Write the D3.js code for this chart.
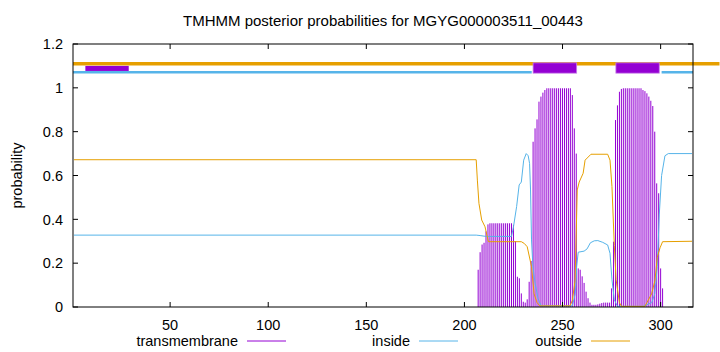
<!DOCTYPE html>
<html>
<head>
<meta charset="utf-8">
<script src="https://cdn.jsdelivr.net/npm/d3@7"></script>
<style>
  body { margin: 0; background: #fff; }
  text { font-family: "Liberation Sans", Arial, sans-serif; font-size: 14.5px; fill: #000; }
</style>
</head>
<body>
<script>
let width = 720;
let height = 352;

// data
let seqLength = 316;
let yTicks = [0, 0.2, 0.4, 0.6, 0.8, 1, 1.2];
let xTicks = [50, 100, 150, 200, 250, 300];

// transmembrane posterior, residues 207..301 (zero elsewhere)
let tmFirst = 207;
let tmValues = [
  0.17, 0.25, 0.285, 0.293, 0.345, 0.377,                       // 207-212
  0.382, 0.382, 0.382, 0.382, 0.382, 0.382, 0.382, 0.382, 0.382, 0.382, 0.382, 0.382, 0.375, // 213-225
  0.30, 0.138, 0.131, 0.062, 0.024, 0.02, 0.035, 0.115, 0.21,  // 226-234
  0.754, 0.815, 0.856, 0.937, 0.96, 0.978, 0.99,                // 235-241
  0.998, 0.998, 0.998, 0.998, 0.998, 0.998, 0.998, 0.998, 0.998, 0.998, 0.998, 0.998, 0.998, // 242-254
  0.967, 0.815, 0.70, 0.176, 0.17, 0.14, 0.11, 0.07, 0.04, 0.02, // 255-264
  0.01, 0.01, 0.01, 0.012, 0.015, 0.018, 0.02, 0.02, 0.02, 0.02, // 265-274
  0.085, 0.298, 0.853, 0.92, 0.982, 0.995,                      // 275-280
  0.998, 0.998, 0.998, 0.998, 0.998, 0.998, 0.998, 0.998, 0.998, 0.998, // 281-290
  0.99, 0.985, 0.975, 0.96, 0.941, 0.917, 0.80, 0.564, 0.519, 0.176, 0.085 // 291-301
];

// inside / outside posterior as [residue, probability]
let insideCurve = [
  [1, 0.328], [206, 0.328], [208, 0.326], [211, 0.322], [224, 0.322], [225, 0.366],
  [226.6, 0.458], [227.9, 0.557], [229, 0.57], [230.2, 0.67], [231.5, 0.70], [232.5, 0.69],
  [233.2, 0.655], [233.7, 0.534], [234.2, 0.306], [234.9, 0.184], [236, 0.11], [237.5, 0.04],
  [239, 0.005], [255, 0.005], [256.5, 0.06], [257.2, 0.184], [258, 0.25], [261, 0.255],
  [262.5, 0.265], [264.2, 0.293], [266.2, 0.302], [268, 0.303], [270.5, 0.295], [273, 0.283],
  [274.2, 0.245], [275.2, 0.124], [276.4, 0.033], [278, 0.003], [291, 0.003], [295.5, 0.02],
  [297, 0.06], [298.3, 0.184], [299.3, 0.42], [300.5, 0.6], [302.2, 0.69], [303.9, 0.70], [316, 0.70]
];
let outsideCurve = [
  [1, 0.672], [206, 0.672], [206.6, 0.579], [207.4, 0.473], [208.8, 0.397], [210.5, 0.366],
  [212.2, 0.298], [229, 0.298], [230.5, 0.29], [232, 0.275], [234.2, 0.184], [235.5, 0.06],
  [237, 0.02], [238.5, 0.005], [253.8, 0.005], [255, 0.03], [256.4, 0.12], [257.5, 0.534],
  [258.5, 0.57], [260.5, 0.61], [261.5, 0.67], [264.5, 0.697], [273, 0.697], [274.2, 0.67],
  [275.2, 0.55], [276.4, 0.28], [277.3, 0.125], [279, 0.02], [280, 0.003], [292, 0.003],
  [293, 0.02], [295.4, 0.06], [297.1, 0.12], [298.3, 0.227], [299.7, 0.27], [301, 0.298], [316, 0.3]
];

// topology strip above the plot: [from, to]
let outsideStrip = [[0.5, 330]];
let insideStrip = [[0.5, 234.3], [300.5, 316.5]];
let tmBoxes = [[235, 257.2], [277.2, 299.3]];
let smallBoxes = [[6.8, 28.9]];

let legendItems = ['transmembrane', 'inside', 'outside'];
let colors = { transmembrane: '#9400d3', inside: '#56b4e9', outside: '#e69f00' };

let margin = { top: 44, right: 27, bottom: 45, left: 73 };

let x = d3.scaleLinear().domain([0.5, seqLength + 0.5]).range([margin.left, width - margin.right]);
let y = d3.scaleLinear().domain([0, 1.2]).range([height - margin.bottom, margin.top]);

let svg = d3.select('body')
  .append('svg')
  .attr('width', width)
  .attr('height', height);

let tmSeries = d3.range(1, seqLength + 1).map(r => {
  let i = r - tmFirst;
  return [r, (i >= 0 && i < tmValues.length) ? tmValues[i] : 0];
});

// impulses
svg.append('g')
  .selectAll('line')
  .data(tmSeries.filter(d => d[1] > 0))
  .join('line')
  .attr('x1', d => x(d[0]))
  .attr('x2', d => x(d[0]))
  .attr('y1', y(0))
  .attr('y2', d => y(d[1]))
  .attr('stroke', colors.transmembrane)
  .attr('stroke-width', 1);

let line = d3.line().x(d => x(d[0])).y(d => y(d[1]));

svg.append('path')
  .attr('d', line(insideCurve))
  .attr('fill', 'none')
  .attr('stroke', colors.inside)
  .attr('stroke-width', 1);

svg.append('path')
  .attr('d', line(outsideCurve))
  .attr('fill', 'none')
  .attr('stroke', colors.outside)
  .attr('stroke-width', 1);

// topology strip
svg.append('g')
  .selectAll('line')
  .data(insideStrip)
  .join('line')
  .attr('x1', d => x(d[0]))
  .attr('x2', d => x(d[1]))
  .attr('y1', y(1.071))
  .attr('y2', y(1.071))
  .attr('stroke', colors.inside)
  .attr('stroke-width', 2.5);

svg.append('g')
  .selectAll('line')
  .data(outsideStrip)
  .join('line')
  .attr('x1', d => x(d[0]))
  .attr('x2', d => x(d[1]))
  .attr('y1', y(1.11))
  .attr('y2', y(1.11))
  .attr('stroke', colors.outside)
  .attr('stroke-width', 3.4);

svg.append('g')
  .selectAll('rect')
  .data(smallBoxes)
  .join('rect')
  .attr('x', d => x(d[0]))
  .attr('width', d => x(d[1]) - x(d[0]))
  .attr('y', y(1.1))
  .attr('height', y(1.077) - y(1.1))
  .attr('fill', colors.transmembrane);

svg.append('g')
  .selectAll('rect')
  .data(tmBoxes)
  .join('rect')
  .attr('x', d => x(d[0]))
  .attr('width', d => x(d[1]) - x(d[0]))
  .attr('y', y(1.114))
  .attr('height', y(1.067) - y(1.114))
  .attr('fill', colors.transmembrane)
  .attr('stroke', '#c77ee8')
  .attr('stroke-width', 0.8);

// frame and ticks
let x0 = margin.left, x1 = width - margin.right;
let y0 = height - margin.bottom, y1 = margin.top;

svg.append('rect')
  .attr('x', x0)
  .attr('y', y1)
  .attr('width', x1 - x0)
  .attr('height', y0 - y1)
  .attr('fill', 'none')
  .attr('stroke', '#000')
  .attr('stroke-width', 1);

let ticks = svg.append('g').attr('stroke', '#000').attr('stroke-width', 1);
yTicks.forEach(t => {
  ticks.append('line').attr('x1', x0).attr('x2', x0 + 5).attr('y1', y(t)).attr('y2', y(t));
  ticks.append('line').attr('x1', x1).attr('x2', x1 - 5).attr('y1', y(t)).attr('y2', y(t));
});
xTicks.forEach(t => {
  ticks.append('line').attr('x1', x(t)).attr('x2', x(t)).attr('y1', y0).attr('y2', y0 - 5);
  ticks.append('line').attr('x1', x(t)).attr('x2', x(t)).attr('y1', y1).attr('y2', y1 + 5);
});

svg.append('g')
  .selectAll('text')
  .data(yTicks)
  .join('text')
  .attr('x', x0 - 10)
  .attr('y', d => y(d))
  .attr('dy', '0.36em')
  .attr('text-anchor', 'end')
  .text(d => d3.format('~g')(d));

svg.append('g')
  .selectAll('text')
  .data(xTicks)
  .join('text')
  .attr('x', d => x(d))
  .attr('y', y0 + 23)
  .attr('text-anchor', 'middle')
  .text(d => d);

svg.append('text')
  .attr('x', (x0 + x1) / 2)
  .attr('y', 26)
  .attr('text-anchor', 'middle')
  .style('font-size', '15px')
  .text('TMHMM posterior probabilities for MGYG000003511_00443');

svg.append('text')
  .attr('transform', `translate(22, ${(y0 + y1) / 2}) rotate(-90)`)
  .attr('text-anchor', 'middle')
  .text('probability');

// legend
let legend = svg.append('g')
  .selectAll('g')
  .data(legendItems)
  .join('g')
  .attr('transform', (d, i) => `translate(${238 + i * 172}, 341)`);

legend.append('text')
  .attr('text-anchor', 'end')
  .attr('dy', '0.36em')
  .text(d => d);

legend.append('line')
  .attr('x1', 9)
  .attr('x2', 48)
  .attr('stroke', d => colors[d])
  .attr('stroke-width', 1);
</script>
</body>
</html>
